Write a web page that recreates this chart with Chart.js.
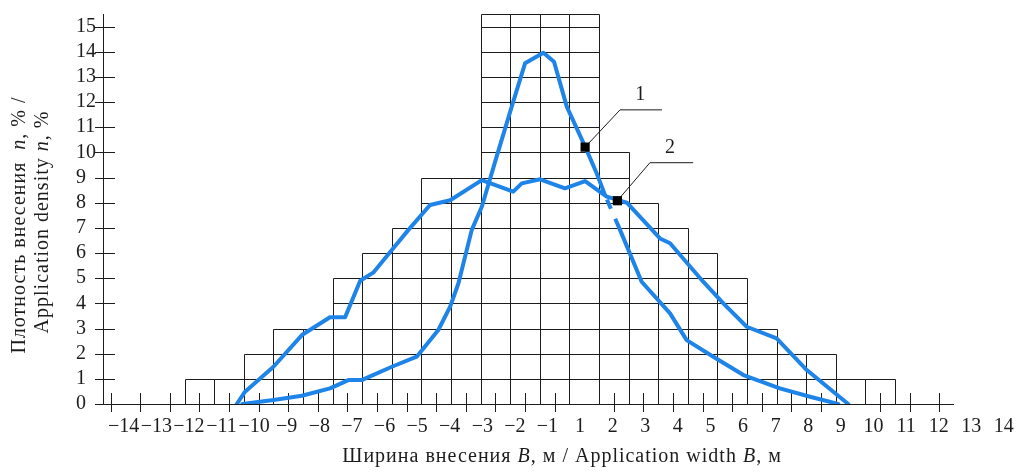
<!DOCTYPE html>
<html>
<head>
<meta charset="utf-8">
<script src="https://cdn.jsdelivr.net/npm/chart.js@4.4.0/dist/chart.umd.min.js"></script>
<style>
  html, body { margin: 0; padding: 0; background: #fff; }
  #wrap { width: 1021px; height: 475px; position: relative; }
</style>
</head>
<body>
<div id="wrap"><canvas id="chart"></canvas></div>
<script>
// tick labels as printed under the axis (no 0)
const xLabels = ["−14", "−13", "−12", "−11", "−10", "−9", "−8", "−7", "−6", "−5", "−4", "−3", "−2", "−1",
  "1", "2", "3", "4", "5", "6", "7", "8", "9", "10", "11", "12", "13", "14"]
const xTicks = [-14, -13, -12, -11, -10, -9, -8, -7, -6, -5, -4, -3, -2, -1, 0, 1, 3, 4, 5, 6, 7, 8, 9, 10, 12, 13, 14]
const yTicks = [0, 1, 2, 3, 4, 5, 6, 7, 8, 9, 10, 11, 12, 13, 14, 15]

// staircase grid: cell edges and column heights
const cellEdges = [-11.5, -10.5, -9.5, -8.5, -7.5, -6.5, -5.5, -4.5, -3.5, -2.5, -1.5, -0.5, 0.5, 1.5, 2.5,
  3.5, 4.5, 5.5, 6.5, 7.5, 8.5, 9.5, 10.5, 11.5, 12.5]
const cellHeights = [1, 1, 2, 3, 3, 5, 6, 7, 9, 9, 15.5, 15.5, 15.5, 15.5, 10, 8, 7, 6, 5, 3, 2, 2, 1, 1]

// curve 1 (narrow peak)
const curve1X = [-9.55, -8.5, -7.54, -6.59, -5.97, -5.52, -4.5, -3.66, -2.93, -2.53, -2.25, -1.8, -1.46, -0.96,
  -0.45, 0, 0.62, 0.98, 1.41, 2.03, 2.42, 2.7, 3.21, 3.94, 4.9, 5.46, 6.36, 7.38, 8.61, 9.63, 10.58]
const curve1Y = [0, 0.16, 0.33, 0.62, 0.95, 0.95, 1.48, 1.88, 2.94, 3.87, 4.8, 6.92, 7.84, 9.83,
  11.82, 13.54, 13.96, 13.6, 11.82, 10.23, 9.17, 8.31, 6.92, 4.86, 3.6, 2.54, 1.88, 1.15, 0.62, 0.29, 0]

// curve 2 (broad)
const curve2X = [-9.74, -9.46, -8.5, -7.54, -6.59, -6.08, -5.57, -5.13, -4.5, -3.94, -3.21, -2.53, -1.46, -0.4,
  -0.11, 0.51, 1.35, 2.03, 2.76, 3.15, 3.44, 4.56, 4.9, 6.02, 6.7, 7.49, 8.5, 9.52, 10.92]
const curve2Y = [0, 0.49, 1.48, 2.74, 3.45, 3.45, 4.9, 5.22, 6.12, 6.92, 7.91, 8.1, 8.9, 8.44,
  8.77, 8.93, 8.57, 8.86, 8.24, 8.1, 8.0, 6.58, 6.39, 4.86, 4.0, 3.07, 2.61, 1.35, 0]

// callouts: marker, elbow, end of leader, label position
const callouts = [
  { name: "1", marker: [2.03, 10.21], elbow: [3.21, 11.69], end: [4.63, 11.69], label: [3.89, 12.3] },
  { name: "2", marker: [3.12, 8.08], elbow: [4.22, 9.59], end: [5.68, 9.59], label: [4.9, 10.2] },
]

const toPts = (xs, ys) => xs.map((x, i) => ({ x: x, y: ys[i] }))
const BLUE = "#1e84e8"
const INK = "#1c1c1c"
const SERIF = "'Liberation Serif', 'DejaVu Serif', serif"

const dashStart = curve1X.indexOf(2.7)

// draws text made of plain/italic pieces centred on (cx, cy)
function richText(ctx, pieces, cx, cy, size, spacing) {
  ctx.letterSpacing = spacing + "px"
  let total = 0
  pieces.forEach(([t, it]) => {
    ctx.font = (it ? "italic " : "") + size + "px " + SERIF
    total += ctx.measureText(t).width
  })
  let x = cx - total / 2
  ctx.textAlign = "left"
  ctx.textBaseline = "middle"
  pieces.forEach(([t, it]) => {
    ctx.font = (it ? "italic " : "") + size + "px " + SERIF
    ctx.fillText(t, x, cy)
    x += ctx.measureText(t).width
  })
  ctx.letterSpacing = "0px"
}

const gridPlugin = {
  id: "staircase",
  beforeDatasetsDraw(chart) {
    const { ctx, scales } = chart
    const xs = scales.x, ys = scales.y
    const px = (v) => Math.round(xs.getPixelForValue(v)) + 0.5
    const py = (v) => Math.round(ys.getPixelForValue(v)) + 0.5
    ctx.save()
    ctx.strokeStyle = INK
    ctx.lineWidth = 1
    ctx.beginPath()
    cellHeights.forEach((h, i) => {
      const a = px(cellEdges[i]), b = px(cellEdges[i + 1])
      ctx.moveTo(a, py(0)); ctx.lineTo(a, py(h))
      ctx.moveTo(b, py(0)); ctx.lineTo(b, py(h))
      for (let k = 1; k <= Math.floor(h); k++) {
        ctx.moveTo(a, py(k)); ctx.lineTo(b, py(k))
      }
      if (h !== Math.floor(h)) { ctx.moveTo(a, py(h)); ctx.lineTo(b, py(h)) }
    })
    ctx.stroke()

    // axis tick marks crossing the axis lines
    const bottom = chart.chartArea.bottom, left = chart.chartArea.left
    ctx.beginPath()
    xTicks.forEach((v) => {
      const x = px(v)
      ctx.moveTo(x, bottom - 11); ctx.lineTo(x, bottom + 8)
    })
    yTicks.forEach((v) => {
      const y = py(v)
      ctx.moveTo(left - 8, y); ctx.lineTo(left + 12, y)
    })
    ctx.stroke()
    ctx.restore()
  },
  afterDraw(chart) {
    const { ctx, scales, chartArea } = chart
    ctx.save()
    ctx.fillStyle = INK
    callouts.forEach((c) => {
      ctx.font = "20px " + SERIF
      ctx.textAlign = "center"
      ctx.textBaseline = "middle"
      ctx.fillText(c.name, scales.x.getPixelForValue(c.label[0]), scales.y.getPixelForValue(c.label[1]))
    })
    richText(ctx, [["Ширина внесения ", false], ["B", true], [", м / Application width ", false], ["B", true], [", м", false]],
      (chartArea.left + chartArea.right) / 2 + 34, 457, 20, 1)
    ctx.save()
    ctx.translate(20, 225)
    ctx.rotate(-Math.PI / 2)
    richText(ctx, [["Плотность внесения  ", false], ["n", true], [", % /", false]], 0, 0, 20, 1)
    ctx.restore()
    ctx.save()
    ctx.translate(43, 222)
    ctx.rotate(-Math.PI / 2)
    richText(ctx, [["Application density ", false], ["n", true], [", %", false]], 0, 0, 20, 1)
    ctx.restore()
    ctx.restore()
  },
}

const datasets = []
callouts.forEach((c) => {
  datasets.push({
    type: "scatter",
    data: [{ x: c.marker[0], y: c.marker[1] }],
    pointStyle: "rect",
    pointRadius: 6.5,
    pointBackgroundColor: "#000",
    pointBorderWidth: 0,
    order: 0,
  })
  datasets.push({
    data: [c.marker, c.elbow, c.end].map((p) => ({ x: p[0], y: p[1] })),
    borderColor: INK,
    borderWidth: 1,
    pointRadius: 0,
    order: 1,
  })
})
datasets.push({
  label: "1",
  data: toPts(curve1X, curve1Y),
  borderColor: BLUE,
  borderWidth: 4,
  pointRadius: 0,
  borderJoinStyle: "round",
  borderCapStyle: "round",
  order: 2,
  segment: {
    borderDash: (ctx) => (ctx.p0DataIndex === dashStart ? [10, 11, 20, 5] : undefined),
    borderDashOffset: (ctx) => (ctx.p0DataIndex === dashStart ? 41 : undefined),
    borderCapStyle: (ctx) => (ctx.p0DataIndex === dashStart ? "butt" : undefined),
  },
})
datasets.push({
  label: "2",
  data: toPts(curve2X, curve2Y),
  borderColor: BLUE,
  borderWidth: 4,
  pointRadius: 0,
  borderJoinStyle: "round",
  borderCapStyle: "round",
  order: 2,
})

new Chart(document.getElementById("chart"), {
  type: "line",
  data: { datasets },
  plugins: [gridPlugin],
  options: {
    responsive: true,
    maintainAspectRatio: false,
    animation: false,
    events: [],
    layout: { padding: { left: 76, right: 68, top: 14, bottom: 0 } },
    plugins: { legend: { display: false }, tooltip: { enabled: false } },
    scales: {
      x: {
        type: "linear",
        min: -14.26,
        max: 14.46,
        display: false,
      },
      // label row of the printed axis (spaced a little wider than the ticks)
      xl: {
        type: "linear",
        position: "bottom",
        min: -0.635,
        max: 25.44,
        grid: { display: false },
        border: { display: true, color: INK, width: 1 },
        afterBuildTicks: (scale) => { scale.ticks = xLabels.map((t, i) => ({ value: i })) },
        afterFit: (scale) => { scale.height = 71 },
        ticks: {
          autoSkip: false,
          maxRotation: 0,
          padding: 3,
          color: INK,
          font: { family: SERIF, size: 20 },
          callback: (v, i) => xLabels[i],
        },
      },
      y: {
        type: "linear",
        min: 0,
        max: 15.5,
        grid: { display: false },
        border: { display: true, color: INK, width: 1 },
        afterBuildTicks: (scale) => { scale.ticks = yTicks.map((v) => ({ value: v })) },
        afterFit: (scale) => { scale.width = 27 },
        ticks: {
          autoSkip: false,
          crossAlign: "far",
          padding: 0,
          color: INK,
          font: { family: SERIF, size: 20 },
          callback: (v) => String(v),
        },
      },
    },
  },
})
</script>
</body>
</html>
